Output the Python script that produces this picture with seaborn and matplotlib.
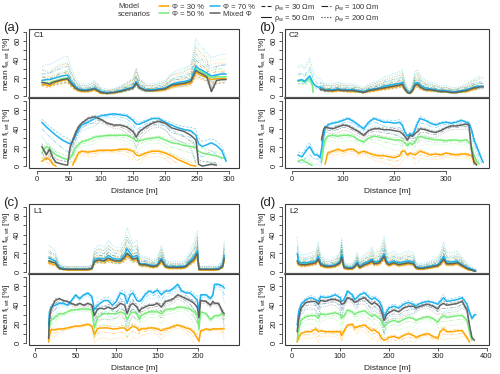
import numpy as np
import pandas as pd
import matplotlib
matplotlib.use("Agg")
import matplotlib.pyplot as plt
from matplotlib.lines import Line2D
from matplotlib.patches import Rectangle
import seaborn as sns

nan = np.nan

# model scenarios and pore water resistivities
scenarios = ["Φ = 30 %", "Φ = 50 %", "Φ = 70 %", "Mixed Φ"]
rho_w = ["30", "50", "100", "200"]
rho_water_scale = [0.8, 1.0, 1.4, 1.9]

# ---- (a) C1 ----
a_dist = [8, 15, 20, 25, 30, 40, 48, 52, 56, 60, 65, 70, 80, 90, 100, 110, 120, 130, 140, 150,
          155, 160, 170, 180, 190, 200, 210, 220, 230, 240, 248, 252, 258, 265, 272, 280, 288, 295]
a_water_30 = [13, 12, 11, 13, 15, 17, 18, 14, 11, 8, 6, 5, 5, 7, 3, 3, 3, 5, 7, 10,
              16, 9, 6, 6, 6, 7, 10, 12, 13, 14, 26, 24, 22, 20, 18, 19, 19, 19]
a_water_50 = [15, 15, 14, 16, 17, 19, 20, 15, 12, 9, 7, 6, 6, 8, 4, 3, 4, 5, 7, 9,
              15, 9, 6, 6, 7, 8, 12, 14, 15, 17, 30, 28, 26, 23, 20, 21, 21, 21]
a_water_70 = [17, 18, 18, 19, 20, 22, 23, 18, 14, 11, 8, 7, 7, 9, 5, 4, 4, 6, 8, 10,
              16, 10, 7, 7, 8, 9, 13, 15, 16, 18, 33, 30, 28, 25, 22, 23, 24, 24]
a_water_mix = [15, 14, 13, 15, 16, 18, 19, 15, 12, 9, 7, 6, 6, 8, 4, 3, 4, 5, 7, 9,
               14, 9, 6, 6, 7, 8, 12, 13, 14, 16, 28, 26, 24, 21, 5, 17, 18, 18]
a_ice_30 = [5, 9, 7, 2, 0, nan, nan, nan, 1, 7, 14, 16, 15, 16, 17, 17, 17, 18, 18, 16,
            12, 11, 14, 16, 16, 14, 11, 7, 4, 1, 0, nan, nan, nan, nan, nan, nan, nan]
a_ice_50 = [14, 21, 19, 15, 12, 9, 7, 9, 12, 19, 23, 26, 28, 31, 32, 33, 33, 33, 33, 30,
            27, 27, 29, 30, 31, 28, 25, 24, 22, 21, 20, 16, 14, 13, 12, 11, 9, 8]
a_ice_70 = [47, 42, 39, 36, 33, 28, 25, 24, 27, 32, 39, 44, 47, 51, 54, 55, 56, 55, 54, 49,
            45, 45, 48, 51, 51, 47, 44, 41, 39, 38, 33, 24, 21, 23, 25, 22, 17, 5]
a_ice_mix = [21, 12, 18, 9, 4, 2, 1, 20, 27, 35, 42, 46, 51, 53, 50, 46, 44, 44, 42, 37,
             31, 37, 42, 46, 48, 46, 41, 39, 37, 33, 28, 2, 0, 1, 2, 1, nan, nan]

# ---- (b) C2 ----
b_dist = [12, 20, 25, 30, 35, 40, 42, 45, 50, 55, 58, 62, 65, 70, 80, 90, 100, 110, 120, 130,
          140, 150, 160, 170, 180, 190, 200, 210, 215, 220, 225, 230, 235, 240, 245, 250, 260, 270, 280, 290,
          300, 310, 320, 330, 340, 345, 350, 355, 360, 365, 370, 373]
b_water_30 = [nan, nan, nan, nan, nan, nan, nan, nan, nan, nan, nan, 7, 6, 6, 5, 6, 6, 5, 5, 5,
              4, 5, 6, 7, 8, 9, 10, 11, 12, 7, 4, 3, 5, 11, 12, 9, 7, 6, 6, 5,
              5, 4, 4, 5, 5, 6, 7, 8, 8, nan, nan, nan]
b_water_50 = [16, 17, 15, 17, 20, 12, 4, nan, nan, 8, 8, 7, 7, 6, 6, 7, 7, 6, 6, 5,
              4, 6, 7, 8, 10, 11, 12, 13, 14, 8, 4, 3, 6, 13, 14, 11, 8, 7, 6, 5,
              5, 4, 4, 5, 6, 7, 8, 9, 10, 10, nan, nan]
b_water_70 = [17, 18, 16, 19, 22, 16, 14, 12, 10, 10, 9, 8, 7, 7, 7, 8, 7, 7, 7, 6,
              5, 7, 8, 9, 11, 12, 13, 14, 15, 9, 5, 4, 7, 14, 15, 12, 9, 8, 7, 6,
              6, 5, 5, 6, 7, 8, 9, 10, 11, 11, 11, 11]
b_water_mix = [nan, nan, nan, nan, nan, nan, nan, nan, nan, 8, 7, 7, 6, 6, 6, 7, 6, 6, 6, 5,
               4, 6, 7, 8, 9, 10, 11, 12, 13, 8, 4, 3, 6, 12, 13, 10, 7, 7, 6, 5,
               5, 4, 4, 5, 6, 7, 8, 9, 9, 10, 10, 10]
b_ice_30 = [nan, nan, nan, nan, nan, nan, nan, nan, nan, nan, nan, nan, 2, 14, 16, 18, 16, 18, 18, 14,
            16, 14, 12, 11, 11, 10, 9, 11, 16, 16, 12, 14, 13, 12, 14, 16, 14, 12, 13, 12,
            14, 13, 12, 13, 13, 12, 11, 5, 2, nan, nan, nan]
b_ice_50 = [5, 7, 5, 4, 2, 1, nan, nan, nan, nan, 4, 21, 28, 32, 33, 32, 33, 33, 32, 28,
            26, 30, 32, 31, 30, 29, 28, 28, 27, 25, 22, 25, 23, 26, 30, 32, 30, 29, 28, 28,
            27, 28, 28, 27, 28, 26, 21, 11, 5, 2, nan, nan]
b_ice_70 = [12, 10, 14, 18, 21, 16, 14, 12, 12, 9, 18, 32, 40, 44, 46, 47, 49, 51, 48, 44,
            40, 47, 51, 49, 47, 47, 46, 47, 44, 37, 32, 35, 33, 39, 46, 51, 49, 46, 44, 46,
            47, 46, 47, 49, 47, 46, 39, 28, 21, 14, 7, 4]
b_ice_mix = [nan, nan, nan, nan, nan, nan, nan, nan, nan, nan, 28, 39, 42, 41, 40, 42, 44, 43, 40, 37,
             33, 38, 40, 40, 39, 39, 38, 37, 35, 32, 28, 33, 32, 35, 37, 40, 39, 37, 36, 38,
             41, 43, 43, 44, 45, 44, 18, 4, 1, nan, nan, nan]

# ---- (c) L1 ----
c_dist = [17, 18, 20, 25, 30, 35, 40, 45, 50, 55, 60, 65, 70, 73, 77, 80, 85, 90, 95, 100,
          105, 110, 113, 117, 120, 125, 128, 130, 135, 140, 145, 150, 155, 160, 165, 170, 175, 180, 185, 190,
          195, 199, 201, 203, 210, 215, 218, 220, 225, 230, 232]
c_water_30 = [10, 10, 9, 8, 4, 3, 2, 2, 2, 2, 2, 2, 3, 10, 12, 12, 11, 13, 12, 11,
              11, 14, 18, 15, 13, 13, 8, 7, 7, 6, 5, 6, 11, 5, 4, 4, 4, 4, 5, 9,
              12, 18, 2, 2, 2, 2, 2, 2, 3, 5, 13]
c_water_50 = [12, 12, 11, 10, 4, 3, 3, 3, 3, 3, 3, 3, 4, 11, 13, 13, 12, 15, 13, 12,
              12, 16, 21, 17, 14, 15, 9, 8, 8, 7, 6, 7, 13, 6, 5, 5, 5, 5, 6, 10,
              14, 20, 3, 3, 3, 3, 3, 3, 3, 6, 16]
c_water_70 = [15, 15, 14, 12, 5, 4, 3, 3, 3, 3, 3, 3, 4, 13, 15, 15, 14, 18, 15, 14,
              14, 19, 25, 20, 16, 18, 10, 9, 9, 8, 7, 8, 15, 7, 6, 6, 6, 6, 7, 12,
              17, 23, 4, 3, 3, 3, 3, 3, 4, 7, 18]
c_water_mix = [12, 12, 11, 10, 4, 3, 3, 3, 3, 3, 3, 3, 4, 11, 13, 13, 12, 15, 13, 12,
               12, 16, 20, 17, 14, 15, 9, 8, 8, 7, 6, 7, 13, 6, 5, 5, 5, 5, 6, 10,
               14, 20, 3, 3, 3, 3, 3, 3, 3, 6, 15]
c_ice_30 = [2, 9, 14, 14, 15, 15, 16, 17, 18, 18, 19, 20, 18, 9, 15, 16, 16, 16, 15, 15,
            16, 16, 13, 16, 18, 16, 13, 15, 15, 16, 16, 15, 13, 15, 16, 18, 19, 18, 16, 15,
            11, 5, 2, 13, 15, 14, 15, 15, 15, 15, 15]
c_ice_50 = [7, 18, 24, 27, 31, 31, 33, 35, 35, 36, 36, 36, 35, 16, 27, 29, 31, 31, 31, 31,
            33, 31, 25, 31, 33, 31, 25, 29, 31, 33, 33, 33, 31, 35, 36, 36, 38, 38, 37, 36,
            33, 29, 15, 33, 31, 25, 27, 29, 29, 31, 29]
c_ice_70 = [18, 33, 38, 40, 42, 42, 40, 45, 51, 47, 51, 53, 49, 35, 40, 42, 45, 45, 40, 44,
            53, 51, 42, 51, 53, 45, 44, 45, 51, 55, 53, 56, 51, 55, 55, 58, 62, 55, 53, 53,
            49, 45, 33, 51, 51, 47, 51, 62, 62, 60, 58]
c_ice_mix = [5, 25, 36, 45, 47, 45, 44, 42, 40, 42, 40, 42, 40, 29, 36, 37, 36, 38, 36, 38,
             42, 40, 31, 40, 42, 38, 33, 36, 38, 40, 40, 42, 38, 44, 45, 47, 51, 49, 47, 45,
             42, 38, 27, 45, 44, 40, 44, 42, 42, 33, 31]

# ---- (d) L2 ----
d_dist = [12, 15, 20, 30, 40, 50, 55, 60, 70, 80, 90, 100, 103, 108, 115, 125, 130, 135, 140, 150,
          160, 165, 170, 180, 185, 190, 195, 200, 210, 220, 230, 240, 250, 255, 260, 270, 280, 290, 300, 305,
          312, 318, 330, 340, 350, 360, 365, 370, 375, 378]
d_water_30 = [10, 8, 7, 7, 8, 9, 13, 7, 5, 5, 6, 9, 15, 4, 3, 3, 5, 8, 4, 7,
              9, 11, 8, 9, 12, 15, 9, 7, 9, 7, 8, 9, 8, 4, 3, 3, 4, 5, 6, 8,
              13, 8, 8, 9, 6, 3, 2, 2, nan, nan]
d_water_50 = [13, 10, 9, 9, 10, 11, 15, 9, 6, 6, 7, 11, 17, 5, 4, 4, 6, 10, 5, 9,
              11, 13, 10, 11, 14, 18, 11, 9, 11, 9, 10, 11, 10, 5, 4, 4, 5, 6, 7, 10,
              15, 10, 10, 11, 8, 4, 3, 2, 1, nan]
d_water_70 = [20, 12, 10, 10, 11, 12, 17, 10, 7, 7, 8, 12, 19, 6, 5, 5, 7, 11, 6, 10,
              12, 14, 11, 12, 15, 20, 12, 10, 12, 10, 11, 12, 11, 6, 5, 5, 6, 7, 8, 11,
              17, 11, 11, 12, 8, 5, 4, 3, 2, 2]
d_water_mix = [12, 9, 8, 8, 9, 10, 14, 8, 6, 6, 7, 10, 16, 5, 4, 4, 6, 9, 5, 8,
               10, 12, 9, 10, 13, 17, 10, 8, 10, 8, 9, 10, 9, 5, 4, 4, 5, 6, 7, 9,
               14, 9, 9, 10, 7, 4, 3, 2, 1, 1]
d_ice_30 = [1, 6, 10, 12, 12, 15, 12, 13, 12, 12, 12, 12, 8, 13, 19, 20, 16, 17, 18, 19,
            15, 13, 14, 10, 5, 3, 4, 6, 7, 5, 8, 10, 8, 6, 7, 9, 10, 7, 5, 12,
            15, 12, 12, 13, 13, 6, 1, nan, nan, nan]
d_ice_50 = [3, 15, 24, 28, 29, 29, 26, 31, 30, 31, 32, 30, 26, 29, 35, 33, 30, 32, 33, 34,
            30, 28, 30, 26, 23, 17, 20, 22, 24, 22, 25, 27, 26, 24, 25, 27, 28, 26, 22, 26,
            29, 27, 28, 29, 29, 24, 12, 3, nan, nan]
d_ice_70 = [19, 33, 41, 46, 48, 46, 44, 49, 48, 49, 51, 48, 44, 46, 55, 51, 46, 48, 51, 53,
            48, 46, 48, 44, 39, 28, 33, 37, 39, 37, 41, 43, 41, 39, 41, 43, 44, 43, 41, 44,
            48, 44, 45, 46, 48, 41, 33, 26, 30, 30]
d_ice_mix = [12, 26, 37, 43, 44, 44, 41, 45, 44, 46, 46, 44, 41, 42, 48, 46, 43, 44, 46, 48,
             43, 41, 43, 39, 33, 24, 30, 32, 35, 33, 37, 39, 39, 37, 38, 40, 41, 39, 36, 40,
             42, 40, 41, 42, 44, 35, 19, 6, 3, nan]

palette = {"Φ = 30 %": "#FFA500", "Φ = 50 %": "#78EC78",
           "Φ = 70 %": "#1DB2F0", "Mixed Φ": "#626262"}
dash_map = {"30": (3.5, 2), "100": (6, 2, 1.5, 2), "200": (1, 1.6)}


def long_table(dist, water, ice):
    frames = []
    dist = np.asarray(dist, float)
    for scen, w50, i50 in zip(scenarios, water, ice):
        w50 = np.asarray(w50, float)
        i50 = np.asarray(i50, float)
        for rho, k in zip(rho_w, rho_water_scale):
            if rho == "50":
                w, i = w50.copy(), i50.copy()
            else:
                w = w50 * k
                i = i50 - w50 * (k - 1)
                i[i < 0] = nan
            for part, v in (("water", w), ("ice", i)):
                seg = np.cumsum(np.isnan(v))
                ok = ~np.isnan(v)
                frames.append(pd.DataFrame({
                    "dist": dist[ok], "value": v[ok], "scenario": scen, "rho": rho,
                    "part": part, "unit": [f"{scen}-{rho}-{s}" for s in seg[ok]]}))
    return pd.concat(frames, ignore_index=True)


sns.set_style("ticks")
plt.rcParams["font.family"] = ["Liberation Sans", "DejaVu Sans"]
plt.rcParams["mathtext.fontset"] = "custom"
plt.rcParams["mathtext.rm"] = "Liberation Sans"
plt.rcParams["mathtext.it"] = "Liberation Sans:italic"

W, H = 500, 374
fig = plt.figure(figsize=(5, 3.74), dpi=100)


def px_axes(l, t, r, b):
    return fig.add_axes([l / W, 1 - b / H, (r - l) / W, (b - t) / H])


panels = [
    ("(a)", "C1", (29, 239, 29, 98, 168), (-12, 315), [0, 50, 100, 150, 200, 250, 300],
     long_table(a_dist, [a_water_30, a_water_50, a_water_70, a_water_mix],
                [a_ice_30, a_ice_50, a_ice_70, a_ice_mix])),
    ("(b)", "C2", (285, 489, 29, 98, 168), (-13, 384), [0, 100, 200, 300],
     long_table(b_dist, [b_water_30, b_water_50, b_water_70, b_water_mix],
                [b_ice_30, b_ice_50, b_ice_70, b_ice_mix])),
    ("(c)", "L1", (29, 239, 204, 274, 345), (-7, 250), [0, 50, 100, 150, 200],
     long_table(c_dist, [c_water_30, c_water_50, c_water_70, c_water_mix],
                [c_ice_30, c_ice_50, c_ice_70, c_ice_mix])),
    ("(d)", "L2", (285, 489, 204, 274, 345), (-13, 405), [0, 100, 200, 300, 400],
     long_table(d_dist, [d_water_30, d_water_50, d_water_70, d_water_mix],
                [d_ice_30, d_ice_50, d_ice_70, d_ice_mix])),
]

frame_col = "#3a3a3a"

for tag, name, (l, r, t, m, b), xlim, xticks, df in panels:
    ax_w = px_axes(l, t, r, m)
    ax_i = px_axes(l, m, r, b)
    for ax, part, ylab in ((ax_w, "water", r"mean f$_\mathrm{w,wt}$ [%]"),
                           (ax_i, "ice", r"mean f$_\mathrm{i,wt}$ [%]")):
        sub = df[df["part"] == part]
        sns.lineplot(data=sub[sub["rho"] != "50"], x="dist", y="value", hue="scenario",
                     style="rho", units="unit", estimator=None, sort=False,
                     palette=palette, hue_order=scenarios, style_order=["30", "100", "200"],
                     dashes=dash_map, linewidth=0.5, alpha=0.6, legend=False, ax=ax)
        sns.lineplot(data=sub[sub["rho"] == "50"], x="dist", y="value", hue="scenario",
                     units="unit", estimator=None, sort=False, palette=palette,
                     hue_order=scenarios, linewidth=1.1, legend=False, ax=ax)
        ax.set_xlim(xlim)
        ax.set_ylim(-2, 73)
        for s in ("top", "right"):
            ax.spines[s].set_visible(False)
        ax.spines["left"].set_position(("outward", 2.5))
        ax.spines["left"].set_bounds(0, 70)
        ax.spines["left"].set_color(frame_col)
        ax.spines["left"].set_linewidth(0.6)
        ax.set_yticks([0, 20, 40, 60])
        ax.set_yticks([10, 30, 50, 70], minor=True)
        ax.tick_params(axis="y", which="both", length=2, width=0.6, color=frame_col,
                       labelsize=5.5, pad=1, labelcolor="#222222")
        for lab in ax.get_yticklabels():
            lab.set_rotation(90)
            lab.set_va("center")
        ax.set_ylabel(ylab, fontsize=6, labelpad=1.5, color="#222222")
        ax.set_xlabel("")
        ax.add_patch(Rectangle((0, 0), 1, 1, transform=ax.transAxes, fill=False,
                               lw=0.8, ec=frame_col, clip_on=False, zorder=5))
        if part == "ice":
            ax.spines["bottom"].set_position(("outward", 2.5))
            ax.spines["bottom"].set_bounds(xticks[0], xticks[-1])
            ax.spines["bottom"].set_color(frame_col)
            ax.spines["bottom"].set_linewidth(0.6)
            ax.set_xticks(xticks)
            ax.tick_params(axis="x", length=2, width=0.6, color=frame_col,
                           labelsize=5.5, pad=1.5, labelcolor="#222222")
        else:
            ax.spines["bottom"].set_visible(False)
            ax.set_xticks([])
            ax.axhline(-2, color="#5a5a5a", lw=1.6, clip_on=False, zorder=6)
            ax.text(0.02, 0.95, name, transform=ax.transAxes, fontsize=6,
                    va="top", ha="left", color="#222222")
    fig.text((l + r) / 2 / W, 1 - (b + 23) / H, "Distance [m]", fontsize=6,
             ha="center", va="center", color="#222222")
    fig.text((l - 26) / W, 1 - (t - 1) / H, tag, fontsize=9.5, ha="left", va="center")

# legend
fig.text(118 / W, 1 - 6 / H, "Model", fontsize=5.5, va="center", ha="left", color="#333333")
fig.text(118 / W, 1 - 15 / H, "scenarios", fontsize=5.5, va="center", ha="left", color="#333333")
handles = [Line2D([], [], color=palette[s], lw=1.1) for s in scenarios]
labels = list(scenarios)
rho_styles = [(3.5, 2), None, (6, 2, 1.5, 2), (1, 1.6)]
for rho, ds in zip(rho_w, rho_styles):
    h = Line2D([], [], color="#222222", lw=0.8)
    if ds is not None:
        h.set_dashes(ds)
    handles.append(h)
    labels.append(r"ρ$_\mathrm{w}$ = " + rho + " Ωm")
fig.legend(handles, labels, ncol=4, loc="upper left", bbox_to_anchor=(154 / W, 1 + 3 / H),
           frameon=False, fontsize=5.5, handlelength=1.3, handletextpad=0.4, handleheight=0.5,
           columnspacing=0.8, labelspacing=0.0, borderpad=0.1, labelcolor="#333333")

fig.savefig("out.png", dpi=100)
